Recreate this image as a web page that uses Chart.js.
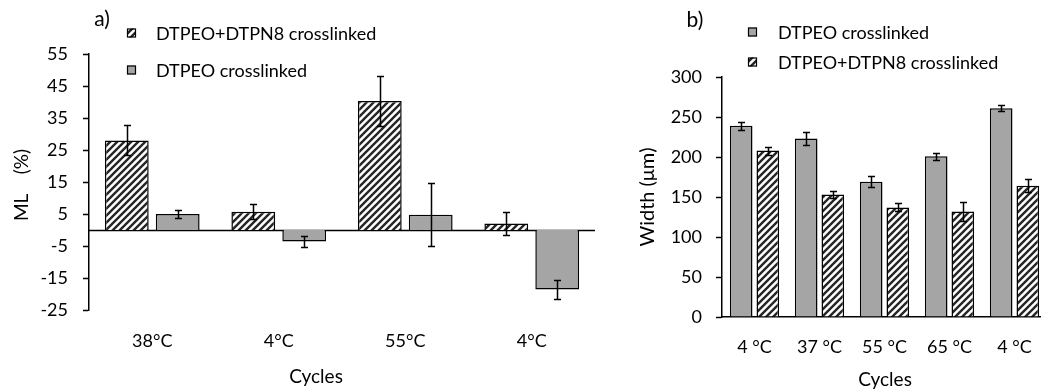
<!DOCTYPE html>
<html>
<head>
<meta charset="utf-8">
<script src="https://cdn.jsdelivr.net/npm/chart.js@4.4.1/dist/chart.umd.min.js"></script>
<style>
  html, body { margin: 0; padding: 0; background: #fff; overflow: hidden; width: 1041px; height: 390px; }
  .panel { position: absolute; top: 0; height: 390px; }
  #panelA { left: 0; width: 600px; }
  #panelB { left: 600px; width: 460px; }
</style>
</head>
<body>
<div class="panel" id="panelA"><canvas id="chartA" width="600" height="390"></canvas></div>
<div class="panel" id="panelB"><canvas id="chartB" width="460" height="390"></canvas></div>
<script>
// ---- Panel a: mass loss over thermal cycles ----
const mlCycles = ['38\u00B0C', '4\u00B0C', '55\u00B0C', '4\u00B0C'];
const mlBlend = [28.0, 5.7, 40.3, 2.0];
const mlBlendErr = [4.7, 2.3, 7.9, 3.7];
const mlDtpeo = [5.0, -3.6, 4.8, -18.6];
const mlDtpeoErr = [1.3, 1.8, 9.8, 2.9];
const mlTicks = [-25, -15, -5, 5, 15, 25, 35, 45, 55];

// ---- Panel b: fibre width over thermal cycles ----
const widthCycles = ['4 \u00B0C', '37 \u00B0C', '55 \u00B0C', '65 \u00B0C', '4 \u00B0C'];
const widthDtpeo = [239, 223, 169, 201, 261];
const widthDtpeoErr = [5, 7.7, 7, 4.5, 4];
const widthBlend = [208, 153, 137, 132, 164];
const widthBlendErr = [5, 4, 5, 11.5, 8];
const widthTicks = [0, 50, 100, 150, 200, 250, 300];

const labelBlend = 'DTPEO+DTPN8 crosslinked';
const labelDtpeo = 'DTPEO crosslinked';

const FONT = 'Lato, "Open Sans", sans-serif';
const GRAY = '#a6a5a5';
const INK = '#000';

Chart.defaults.font.family = FONT;
Chart.defaults.color = INK;

// Diagonal "/" hatch used for the blended fibres
function makeHatch(ctx) {
  const s = 7;
  const tile = document.createElement('canvas');
  tile.width = s; tile.height = s;
  const g = tile.getContext('2d');
  g.fillStyle = '#fff';
  g.fillRect(0, 0, s, s);
  g.strokeStyle = '#262626';
  g.lineWidth = 2.4;
  g.beginPath();
  g.moveTo(-1, s + 1); g.lineTo(s + 1, -1);
  g.moveTo(-1, 1); g.lineTo(1, -1);
  g.moveTo(s - 1, s + 1); g.lineTo(s + 1, s - 1);
  g.stroke();
  return ctx.createPattern(tile, 'repeat');
}

// Vertical error bars with caps, read from each dataset's `errors`
const errorBars = {
  id: 'errorBars',
  afterDatasetsDraw(chart) {
    const { ctx, scales: { y } } = chart;
    ctx.save();
    ctx.strokeStyle = INK;
    ctx.lineWidth = 1.5;
    chart.data.datasets.forEach((ds, i) => {
      const meta = chart.getDatasetMeta(i);
      meta.data.forEach((bar, j) => {
        const v = ds.data[j], e = ds.errors[j];
        const yt = Math.round(y.getPixelForValue(v + e)) + 0.5;
        const yb = Math.round(y.getPixelForValue(v - e)) + 0.5;
        const x = Math.round(bar.x) + 0.5;
        const cap = 3.5;
        ctx.beginPath();
        ctx.moveTo(x, yt); ctx.lineTo(x, yb);
        ctx.moveTo(x - cap, yt); ctx.lineTo(x + cap, yt);
        ctx.moveTo(x - cap, yb); ctx.lineTo(x + cap, yb);
        ctx.stroke();
      });
    });
    ctx.restore();
  }
};

// Horizontal line through zero for the mass-loss panel
const zeroLine = {
  id: 'zeroLine',
  beforeDatasetsDraw(chart, args, opts) {
    if (!opts.show) return;
    const { ctx, chartArea, scales: { y } } = chart;
    const yy = Math.round(y.getPixelForValue(0)) + 0.5;
    ctx.save();
    ctx.strokeStyle = INK;
    ctx.lineWidth = 1.5;
    ctx.beginPath();
    ctx.moveTo(chartArea.left, yy);
    ctx.lineTo(chartArea.right, yy);
    ctx.stroke();
    ctx.restore();
  }
};

// Panel letter, axis titles and legend
const decor = {
  id: 'decor',
  afterDraw(chart, args, o) {
    const { ctx } = chart;
    ctx.save();
    ctx.fillStyle = INK;
    ctx.textAlign = 'center';
    ctx.textBaseline = 'middle';
    ctx.font = '21px ' + FONT;
    ctx.fillText(o.panel, o.panelX, o.panelY);
    ctx.font = '19px ' + FONT;
    ctx.fillText(o.xTitle, o.xTitleX, o.xTitleY);
    ctx.save();
    ctx.font = o.yTitleSize + 'px ' + FONT;
    ctx.translate(o.yTitleX, o.yTitleY);
    ctx.rotate(-Math.PI / 2);
    ctx.fillText(o.yTitle, 0, 0);
    ctx.restore();
    // legend
    ctx.textAlign = 'left';
    ctx.font = '18px ' + FONT;
    chart.data.datasets.forEach((ds, i) => {
      const cy = o.legendY[i];
      const bx = o.legendX, bs = 9;
      ctx.fillStyle = ds.backgroundColor;
      ctx.fillRect(bx, cy - bs / 2, bs, bs);
      ctx.strokeStyle = INK;
      ctx.lineWidth = 1.2;
      ctx.strokeRect(bx + 0.5, cy - bs / 2 + 0.5, bs - 1, bs - 1);
      ctx.fillStyle = INK;
      ctx.fillText(ds.label, o.legendTextX, cy + 1);
    });
    ctx.restore();
  }
};

function yAxis(ticks, width, pad) {
  return {
    min: ticks[0],
    max: ticks[ticks.length - 1],
    afterBuildTicks: (s) => { s.ticks = ticks.map(v => ({ value: v })); },
    afterFit: (s) => { s.width = width; },
    border: { display: true, color: INK, width: 1.5 },
    grid: { drawOnChartArea: false, drawTicks: true, tickLength: 6, tickColor: INK, tickWidth: 1.5 },
    ticks: { font: { size: 18 }, color: INK, padding: pad }
  };
}

function xAxis(height, pad, showBorder) {
  return {
    afterFit: (s) => { s.height = height; },
    border: { display: showBorder, color: INK, width: 1.5 },
    grid: { display: false, drawTicks: false },
    ticks: { font: { size: 18 }, color: INK, padding: pad, maxRotation: 0, autoSkip: false }
  };
}

const ctxA = document.getElementById('chartA').getContext('2d');
const hatchA = makeHatch(ctxA);
new Chart(ctxA, {
  type: 'bar',
  data: {
    labels: mlCycles,
    datasets: [
      { label: labelBlend, data: mlBlend, errors: mlBlendErr, backgroundColor: hatchA, borderColor: INK, borderWidth: 1.5 },
      { label: labelDtpeo, data: mlDtpeo, errors: mlDtpeoErr, backgroundColor: GRAY, borderColor: INK, borderWidth: 1.5 }
    ]
  },
  options: {
    responsive: false,
    animation: false,
    devicePixelRatio: 1,
    categoryPercentage: 0.805,
    barPercentage: 0.86,
    layout: { padding: { top: 54, right: 5, left: 0, bottom: 0 } },
    scales: {
      x: xAxis(80, 20, false),
      y: yAxis(mlTicks, 89, 15)
    },
    plugins: {
      legend: { display: false },
      tooltip: { enabled: false },
      zeroLine: { show: true },
      decor: {
        panel: 'a)', panelX: 102, panelY: 19,
        xTitle: 'Cycles', xTitleX: 316, xTitleY: 377,
        yTitle: 'ML    (%)', yTitleSize: 19, yTitleX: 22, yTitleY: 185,
        legendX: 127, legendTextX: 156, legendY: [33, 70]
      }
    }
  },
  plugins: [zeroLine, errorBars, decor]
});

const ctxB = document.getElementById('chartB').getContext('2d');
const hatchB = makeHatch(ctxB);
new Chart(ctxB, {
  type: 'bar',
  data: {
    labels: widthCycles,
    datasets: [
      { label: labelDtpeo, data: widthDtpeo, errors: widthDtpeoErr, backgroundColor: GRAY, borderColor: INK, borderWidth: 1.5 },
      { label: labelBlend, data: widthBlend, errors: widthBlendErr, backgroundColor: hatchB, borderColor: INK, borderWidth: 1.5 }
    ]
  },
  options: {
    responsive: false,
    animation: false,
    devicePixelRatio: 1,
    categoryPercentage: 0.82,
    barPercentage: 0.85,
    layout: { padding: { top: 77, right: 13, left: 0, bottom: 0 } },
    scales: {
      x: xAxis(73, 19, true),
      y: yAxis(widthTicks, 122, 14)
    },
    plugins: {
      legend: { display: false },
      tooltip: { enabled: false },
      zeroLine: { show: false },
      decor: {
        panel: 'b)', panelX: 95, panelY: 20,
        xTitle: 'Cycles', xTitleX: 285, xTitleY: 380,
        yTitle: 'Width (\u03BCm)', yTitleSize: 20, yTitleX: 48, yTitleY: 197,
        legendX: 148, legendTextX: 178, legendY: [32, 62]
      }
    }
  },
  plugins: [zeroLine, errorBars, decor]
});
</script>
</body>
</html>
